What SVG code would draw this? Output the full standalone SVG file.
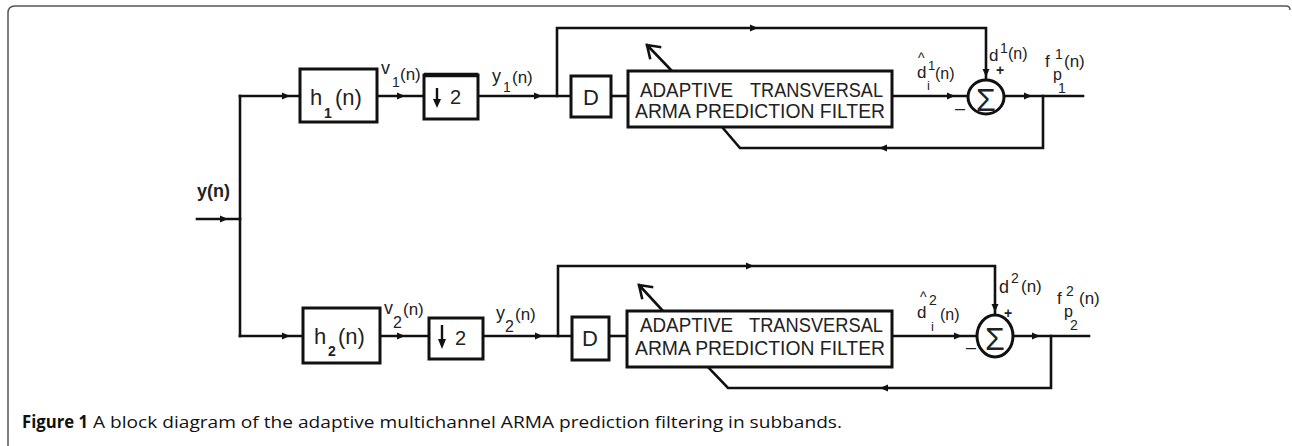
<svg xmlns="http://www.w3.org/2000/svg" xmlns:xlink="http://www.w3.org/1999/xlink" width="1292" height="446" viewBox="0 0 1292 446">
<style>
.ln{fill:none;stroke:#111;stroke-width:2.6;stroke-linecap:square}
.bx{fill:#fff;stroke:#111;stroke-width:3}
.t{font-family:"Liberation Sans",Arial,sans-serif;fill:#222}
.f20{font-size:20px}
.f22{font-size:22px}
.f18{font-size:18px}
.f17{font-size:17px}
.f16{font-size:16px}
.s14{font-size:14px}
.s13{font-size:13px}
.cap{font-family:"Open Sans","Liberation Sans",sans-serif;font-size:17px;fill:#111}
</style>
<defs>
<path id="ar" d="M-7,-3.5 L1,0 L-7,3.5 Z" fill="#111"/>
</defs>
<rect width="1292" height="446" fill="#fff"/>
<path d="M8,446 L8,13 Q8,6 15,6 L1286,6 Q1290,6 1290,10" fill="none" stroke="#555" stroke-width="1.5"/>

<g id="connectors">
<path class="ln" d="M197,219 H240"/>
<path class="ln" d="M240,96 V336"/>
<path class="ln" d="M240,96 H300"/>
<path class="ln" d="M377,96 H424"/>
<path class="ln" d="M478,96 H571"/>
<path class="ln" d="M557,96 V28 H986 V79"/>
<path class="ln" d="M611,96 H628"/>
<path class="ln" d="M892,96 H968"/>
<path class="ln" d="M1004,96 H1083"/>
<path class="ln" d="M1043,96 V148 H740 L722,127"/>
<path class="ln" d="M672,71 L647,45 M660,47 L647,45 L650,58"/>

<path class="ln" d="M240,336 H303"/>
<path class="ln" d="M380,336 H429"/>
<path class="ln" d="M483,336 H572"/>
<path class="ln" d="M558,336 V266 H995 V314"/>
<path class="ln" d="M609,336 H627"/>
<path class="ln" d="M892,336 H977"/>
<path class="ln" d="M1013,336 H1089"/>
<path class="ln" d="M1051,336 V388 H728 L708,367"/>
<path class="ln" d="M663,311 L639,285 M652,287 L639,285 L642,298"/>

<use xlink:href="#ar" href="#ar" transform="translate(227,219)"/>
<use xlink:href="#ar" href="#ar" transform="translate(289,96)"/>
<use xlink:href="#ar" href="#ar" transform="translate(404,96)"/>
<use xlink:href="#ar" href="#ar" transform="translate(541,96)"/>
<use xlink:href="#ar" href="#ar" transform="translate(757,28)"/>
<use xlink:href="#ar" href="#ar" transform="translate(986,76) rotate(90)"/>
<use xlink:href="#ar" href="#ar" transform="translate(954,96)"/>
<use xlink:href="#ar" href="#ar" transform="translate(1031,96)"/>
<use xlink:href="#ar" href="#ar" transform="translate(880,148) rotate(180)"/>

<use xlink:href="#ar" href="#ar" transform="translate(289,336)"/>
<use xlink:href="#ar" href="#ar" transform="translate(404,336)"/>
<use xlink:href="#ar" href="#ar" transform="translate(542,336)"/>
<use xlink:href="#ar" href="#ar" transform="translate(753,266)"/>
<use xlink:href="#ar" href="#ar" transform="translate(995,311) rotate(90)"/>
<use xlink:href="#ar" href="#ar" transform="translate(961,336)"/>
<use xlink:href="#ar" href="#ar" transform="translate(1039,336)"/>
<use xlink:href="#ar" href="#ar" transform="translate(881,388) rotate(180)"/>
</g>

<g id="input-label">
<text class="t f18" x="197" y="197" font-weight="bold">y(n)</text>
</g>

<g id="h1">
<rect class="bx" x="300" y="69" width="77" height="53"/>
<text class="t f22"><tspan x="310" y="105">h</tspan><tspan class="s14" x="324" y="118" font-weight="bold">1</tspan><tspan x="335" y="105">(n)</tspan></text>
</g>
<g id="down1">
<rect class="bx" x="424" y="75" width="54" height="44"/>
<path d="M424,75 H478" stroke="#111" stroke-width="4.5"/>
<path d="M437,88 V100" stroke="#111" stroke-width="2.4"/>
<path d="M433,99 L441,99 L437,108 Z" fill="#111"/>
<text class="t f20" x="450" y="104">2</text>
</g>
<g id="v1-label">
<text class="t f18"><tspan x="381" y="74">v</tspan><tspan class="s14" x="392" y="87">1</tspan><tspan class="f17" x="400" y="80">(n)</tspan></text>
</g>
<g id="y1-label">
<text class="t f18"><tspan x="492" y="82">y</tspan><tspan class="s14" x="503" y="92">1</tspan><tspan class="f17" x="512" y="83">(n)</tspan></text>
</g>
<g id="D1">
<rect class="bx" x="571" y="76" width="40" height="41"/>
<text class="t f22" x="591" y="105" text-anchor="middle">D</text>
</g>
<g id="filter1">
<rect class="bx" x="628" y="71" width="264" height="56"/>
<text class="t f20" x="640" y="97" textLength="93" lengthAdjust="spacingAndGlyphs">ADAPTIVE</text>
<text class="t f20" x="750" y="97" textLength="133" lengthAdjust="spacingAndGlyphs">TRANSVERSAL</text>
<text class="t f20" x="635" y="118" textLength="250" lengthAdjust="spacingAndGlyphs">ARMA PREDICTION FILTER</text>
</g>
<g id="sum1">
<ellipse class="bx" cx="986" cy="97" rx="18" ry="17" stroke-width="2.8"/>
<text class="t" x="986" y="111" font-size="32" text-anchor="middle">Σ</text>
</g>
<g id="labels1">
<text class="t f17"><tspan class="s14" x="918" y="63">^</tspan><tspan x="917" y="78">d</tspan><tspan class="s13" x="928" y="70">1</tspan><tspan class="s13" x="927" y="90">i</tspan><tspan class="f16" x="935" y="79">(n)</tspan></text>
<text class="t f17"><tspan x="989" y="61">d</tspan><tspan class="s14" x="1000" y="53">1</tspan><tspan class="f16" x="1008" y="59">(n)</tspan></text>
<text class="t s14" x="996" y="75" font-weight="bold">+</text>
<text class="t f18" x="955" y="114">–</text>
<text class="t f17"><tspan x="1045" y="67">f</tspan><tspan class="s14" x="1055" y="59">1</tspan><tspan class="f16" x="1053" y="80">p</tspan><tspan class="s14" x="1058" y="93">1</tspan><tspan x="1064" y="67">(n)</tspan></text>
</g>

<g id="h2">
<rect class="bx" x="303" y="308" width="77" height="55"/>
<text class="t f22"><tspan x="314" y="344">h</tspan><tspan class="s14" x="328" y="356" font-weight="bold">2</tspan><tspan x="338" y="344">(n)</tspan></text>
</g>
<g id="down2">
<rect class="bx" x="429" y="318" width="54" height="41"/>
<path d="M442,325 V340" stroke="#111" stroke-width="2.4"/>
<path d="M438,339 L446,339 L442,349 Z" fill="#111"/>
<text class="t f20" x="455" y="345">2</text>
</g>
<g id="v2-label">
<text class="t f18"><tspan x="384" y="314">v</tspan><tspan class="f16" x="393" y="328">2</tspan><tspan class="f17" x="403" y="315">(n)</tspan></text>
</g>
<g id="y2-label">
<text class="t f18"><tspan x="496" y="319">y</tspan><tspan class="f16" x="505" y="332">2</tspan><tspan class="f17" x="515" y="320">(n)</tspan></text>
</g>
<g id="D2">
<rect class="bx" x="572" y="317" width="37" height="43"/>
<text class="t f22" x="590" y="346" text-anchor="middle">D</text>
</g>
<g id="filter2">
<rect class="bx" x="627" y="311" width="265" height="56"/>
<text class="t f20" x="640" y="332" textLength="93" lengthAdjust="spacingAndGlyphs">ADAPTIVE</text>
<text class="t f20" x="749" y="332" textLength="134" lengthAdjust="spacingAndGlyphs">TRANSVERSAL</text>
<text class="t f20" x="635" y="355" textLength="250" lengthAdjust="spacingAndGlyphs">ARMA PREDICTION FILTER</text>
</g>
<g id="sum2">
<ellipse class="bx" cx="995" cy="336" rx="18" ry="21" stroke-width="2.8"/>
<text class="t" x="995" y="350" font-size="32" text-anchor="middle">Σ</text>
</g>
<g id="labels2">
<text class="t f17"><tspan class="s14" x="920" y="302">^</tspan><tspan x="917" y="318">d</tspan><tspan class="s14" x="929" y="305">2</tspan><tspan class="s13" x="931" y="331">i</tspan><tspan class="f16" x="940" y="320">(n)</tspan></text>
<text class="t f18"><tspan x="999" y="293">d</tspan><tspan class="s14" x="1011" y="283">2</tspan><tspan class="f17" x="1021" y="292">(n)</tspan></text>
<text class="t s14" x="1004" y="318" font-weight="bold">+</text>
<text class="t f18" x="966" y="353">–</text>
<text class="t f17"><tspan x="1057" y="304">f</tspan><tspan class="s14" x="1066" y="296">2</tspan><tspan class="f16" x="1064" y="317">p</tspan><tspan class="s14" x="1070" y="330">2</tspan><tspan x="1079" y="304">(n)</tspan></text>
</g>

<g id="caption">
<text class="cap" x="22" y="428" font-weight="bold" textLength="66" lengthAdjust="spacingAndGlyphs">Figure 1</text>
<text class="cap" x="93" y="428" textLength="749" lengthAdjust="spacingAndGlyphs">A block diagram of the adaptive multichannel ARMA prediction filtering in subbands.</text>
</g>
</svg>
